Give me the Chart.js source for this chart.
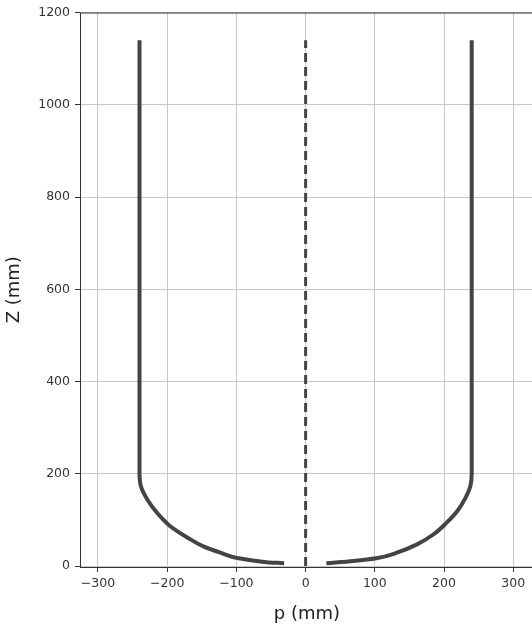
<!DOCTYPE html>
<html>
<head>
<meta charset="utf-8">
<script src="https://cdn.jsdelivr.net/npm/chart.js@4.4.0/dist/chart.umd.min.js"></script>
<style>
  html, body { margin: 0; padding: 0; background: #fff; overflow: hidden; }
  #wrap { width: 540px; height: 630px; }
</style>
</head>
<body>
<div id="wrap"><canvas id="profile-chart"></canvas></div>
<script>
// profile of the wall, right half (p in mm, Z in mm)
const rightP = [30, 69, 102, 132, 161, 185, 203, 219, 231, 238, 240, 240];
const rightZ = [6, 11, 17, 29, 47, 69, 93, 119, 148, 173, 202, 1140];
// left half
const leftP = [-31, -60, -97, -123, -147, -171, -196, -215, -229, -238, -240, -240];
const leftZ = [6, 9, 17, 29, 42, 62, 87, 116, 145, 173, 202, 1140];
// centre axis (dashed)
const axisP = [0, 0];
const axisZ = [0, 1140];

const xTicks = [-300, -200, -100, 0, 100, 200, 300];
const yTicks = [0, 200, 400, 600, 800, 1000, 1200];

const toPoints = (xs, ys) => xs.map((x, i) => ({ x: x, y: ys[i] }));
const minus = v => String(v).replace('-', '\u2212');

const frame = {
    id: 'frame',
    afterDraw(chart) {
        const { ctx, chartArea: a } = chart;
        ctx.save();
        ctx.strokeStyle = '#333';
        ctx.lineWidth = 1;
        ctx.strokeRect(a.left + 0.5, a.top + 0.5, a.right - a.left, a.bottom - a.top);
        ctx.restore();
    }
};

// z rises along every curve, so a monotone spline along y keeps them smooth
const lineStyle = {
    borderColor: '#444',
    borderWidth: 4,
    pointRadius: 0,
    fill: false,
    cubicInterpolationMode: 'monotone',
    indexAxis: 'y',
    borderCapStyle: 'butt'
};

new Chart(document.getElementById('profile-chart'), {
    type: 'scatter',
    data: {
        datasets: [
            { ...lineStyle, data: toPoints(rightP, rightZ), showLine: true },
            { ...lineStyle, data: toPoints(leftP, leftZ), showLine: true },
            { ...lineStyle, data: toPoints(axisP, axisZ), showLine: true, borderWidth: 3, borderDash: [9, 5] }
        ]
    },
    options: {
        responsive: true,
        maintainAspectRatio: false,
        animation: false,
        indexAxis: 'y',
        layout: { padding: { left: 0, top: 11, right: 6, bottom: 0 } },
        plugins: { legend: { display: false }, tooltip: { enabled: false } },
        scales: {
            x: {
                type: 'linear',
                position: 'bottom',
                min: -326,
                max: 330,
                afterBuildTicks: s => { s.ticks = xTicks.map(v => ({ value: v })); },
                afterFit: s => { s.height = 63; },
                grid: { color: '#c8c8c8', tickColor: '#333', tickLength: 5 },
                border: { display: false },
                ticks: {
                    color: '#333',
                    padding: 4,
                    maxRotation: 0,
                    font: { family: 'DejaVu Sans', size: 12.5 },
                    callback: v => minus(v)
                },
                title: {
                    display: true,
                    text: 'p (mm)',
                    color: '#222',
                    font: { family: 'DejaVu Sans', size: 18 },
                    padding: { bottom: 5 }
                }
            },
            y: {
                type: 'linear',
                position: 'left',
                min: -2,
                max: 1200,
                afterBuildTicks: s => { s.ticks = yTicks.map(v => ({ value: v })); },
                afterFit: s => { s.width = 80; },
                grid: { color: '#c8c8c8', tickColor: '#333', tickLength: 5 },
                border: { display: false },
                ticks: {
                    color: '#333',
                    padding: 5,
                    font: { family: 'DejaVu Sans', size: 12.5 },
                    callback: v => minus(v)
                },
                title: {
                    display: true,
                    text: 'Z (mm)',
                    color: '#222',
                    font: { family: 'DejaVu Sans', size: 18 },
                    padding: { top: 4 }
                }
            }
        }
    },
    plugins: [frame]
});
</script>
</body>
</html>
